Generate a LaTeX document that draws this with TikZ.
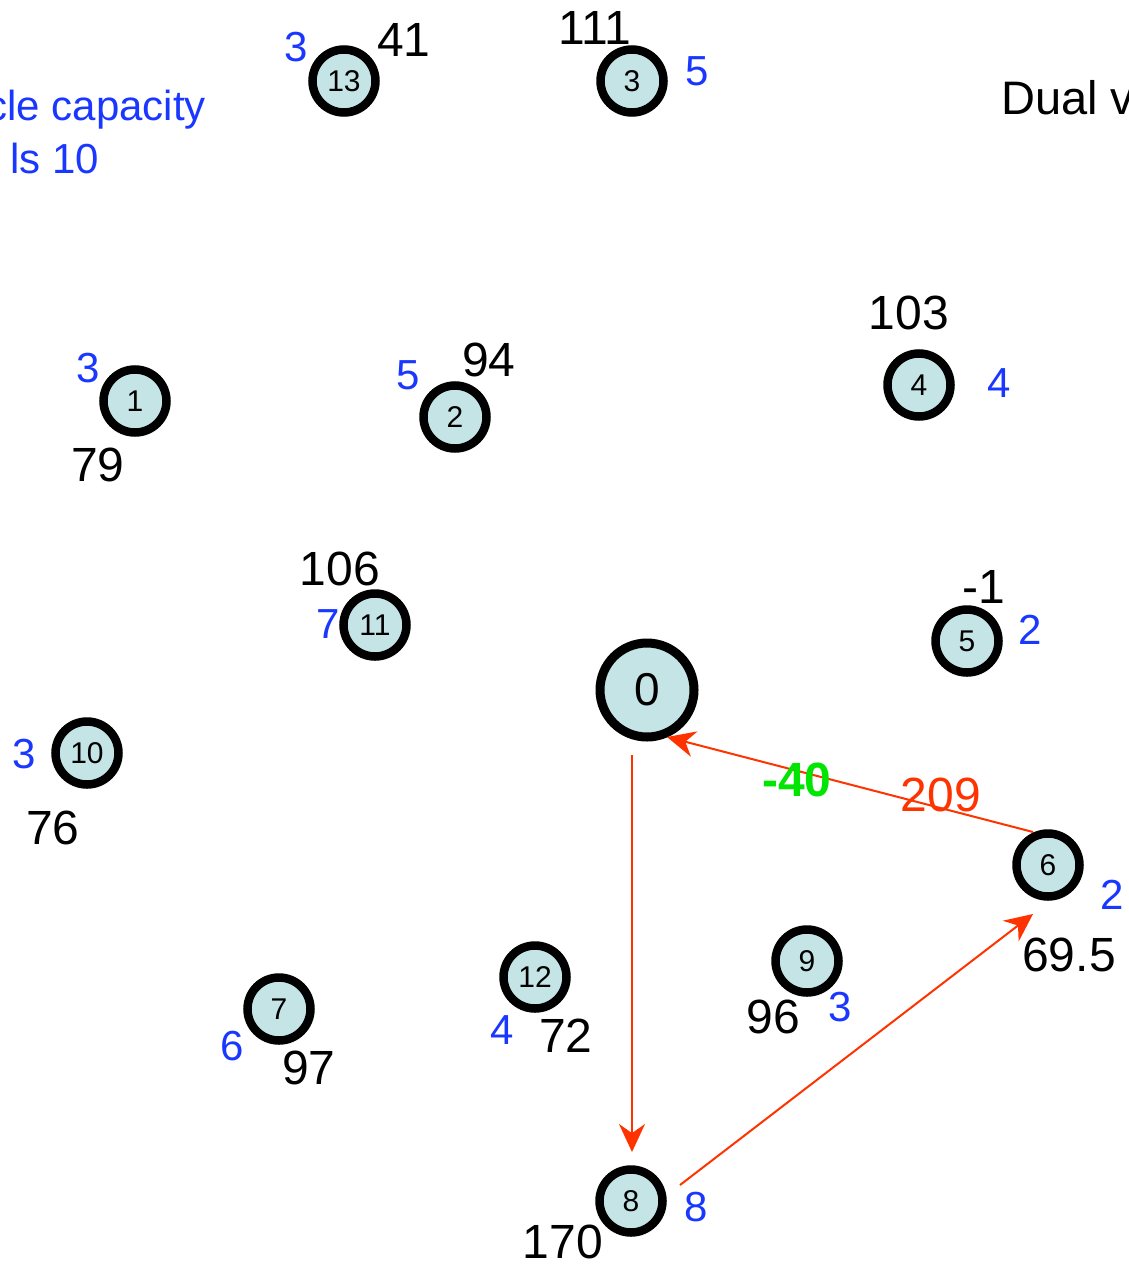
\documentclass[tikz,border=0pt]{standalone}
\usepackage{fontspec}
\setmainfont{Liberation Sans}
\usetikzlibrary{arrows.meta,calc}
\definecolor{nodefill}{RGB}{196,228,230}
\definecolor{lblue}{RGB}{25,55,255}
\definecolor{ered}{RGB}{255,51,0}
\definecolor{egreen}{RGB}{0,230,0}
\begin{document}
\begin{tikzpicture}[x=1pt,y=-1pt,
 cust/.style={circle,draw=black,fill=nodefill,line width=8.5pt,minimum size=63pt,inner sep=0pt,font=\fontsize{30}{30}\selectfont},
 depot/.style={cust,line width=9pt,minimum size=94pt,font=\fontsize{46}{46}\selectfont},
 dem/.style={text=lblue,inner sep=0pt,font=\fontsize{42}{42}\selectfont},
 dual/.style={text=black,inner sep=0pt,font=\fontsize{48}{48}\selectfont},
 note/.style={inner sep=0pt,font=\fontsize{42}{42}\selectfont},
 route/.style={draw=ered,line width=2pt,-{Stealth[length=28pt,width=26pt]}},
]
\useasboundingbox[fill=white] (0,0) rectangle (1129,1266);

% texts
\node[note,text=lblue,anchor=base east] (capA) at (206,120) {cle capacity};
\node[note,text=lblue,anchor=base west] (capB) at (10,173) {ls 10};
\node[note,anchor=base west,font=\fontsize{47}{47}\selectfont] (dualt) at (1001,114) {Dual v};

% nodes
\node[depot] (n0) at (647,690) {0};
\node[cust] (n1) at (135,401) {1};
\node[cust] (n2) at (455,417) {2};
\node[cust] (n3) at (632,81) {3};
\node[cust] (n4) at (919,385) {4};
\node[cust] (n5) at (967,641) {5};
\node[cust] (n6) at (1048,865) {6};
\node[cust] (n7) at (279,1009) {7};
\node[cust] (n8) at (631,1201) {8};
\node[cust] (n9) at (807,961) {9};
\node[cust] (n10) at (87,753) {10};
\node[cust] (n11) at (375,625) {11};
\node[cust] (n12) at (535,977) {12};
\node[cust] (n13) at (344,81) {13};

% demand labels (blue)
\node[dem] (d13) at (296,47) {3};
\node[dem] (d3) at (697,71) {5};
\node[dem] (d1) at (88,368) {3};
\node[dem] (d2) at (408,375) {5};
\node[dem] (d4) at (999,383) {4};
\node[dem] (d11) at (328,624) {7};
\node[dem] (d5) at (1030,630) {2};
\node[dem] (d10) at (24,754) {3};
\node[dem] (d6) at (1112,895) {2};
\node[dem] (d9) at (840,1007) {3};
\node[dem] (d12) at (502,1030) {4};
\node[dem] (d7) at (232,1046) {6};
\node[dem] (d8) at (696,1207) {8};

% dual values (black)
\node[dual] (v13) at (404,40) {41};
\node[dual] (v3) at (595,28) {111};
\node[dual] (v1) at (98,465) {79};
\node[dual] (v2) at (489,360) {94};
\node[dual] (v4) at (909,313) {103};
\node[dual] (v11) at (340,569) {106};
\node[dual] (v5) at (984,587) {-1};
\node[dual] (v10) at (53,828) {76};
\node[dual] (v6) at (1069,955) {69.5};
\node[dual] (v9) at (773,1017) {96};
\node[dual] (v12) at (566,1036) {72};
\node[dual] (v7) at (309,1068) {97};
\node[dual] (v8) at (563,1242) {170};

% routes
\draw[route] ($(n0)+(-15,65)$) -- ($(n8)+(1,-49)$);
\draw[route] ($(n8)+(49,-16)$) -- ($(n6)+(-15,49)$);
\draw[route] ($(n6)+(-15,-33)$) -- ($(n0)+(20,47)$);

% edge labels
\node[inner sep=0pt,text=egreen,font=\fontsize{48}{48}\selectfont\bfseries] (lg) at (797,780) {-40};
\node[inner sep=0pt,text=ered,font=\fontsize{48}{48}\selectfont] (lr) at (941,795) {209};
\end{tikzpicture}
\end{document}
